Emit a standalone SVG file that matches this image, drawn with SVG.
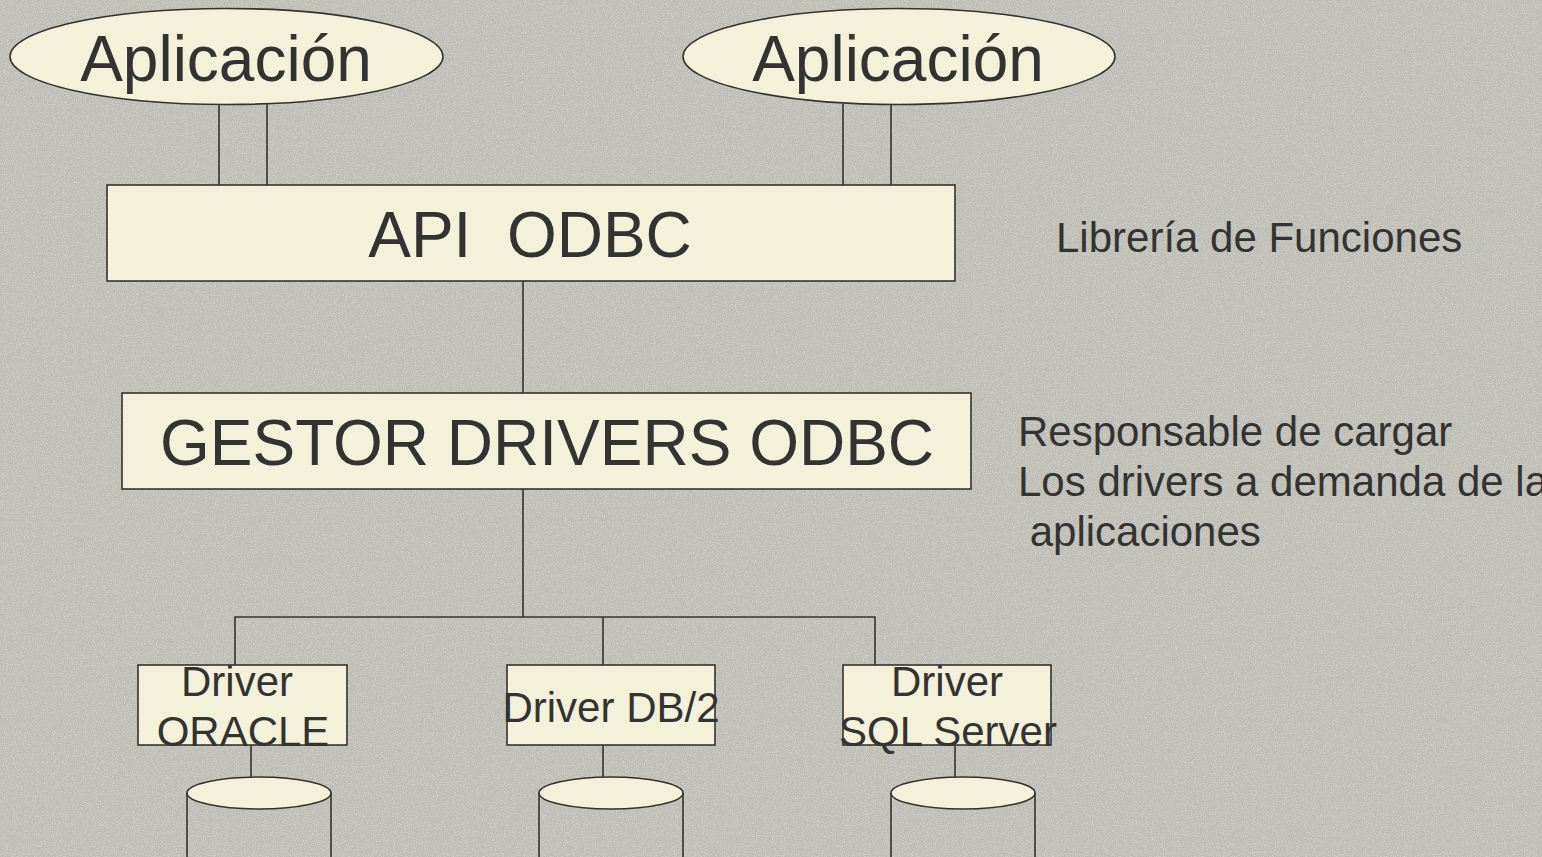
<svg xmlns="http://www.w3.org/2000/svg" width="1542" height="857" viewBox="0 0 1542 857">
  <defs>
    <filter id="grain" x="0" y="0" width="100%" height="100%">
      <feTurbulence type="fractalNoise" baseFrequency="0.9" numOctaves="2" seed="7" result="noise"/>
      <feColorMatrix in="noise" type="matrix" values="0 0 0 0 0.86  0 0 0 0 0.86  0 0 0 0 0.82  0 0 0 -2.2 1.25"/>
    </filter>
  </defs>
  <style>
    .shape { fill: #f3f1da; stroke: #333333; stroke-width: 1.6; }
    .wire { fill: none; stroke: #333333; stroke-width: 1.6; }
    .txt { font-family: "Liberation Sans", Arial, sans-serif; fill: #333333; }
    .big { font-size: 64px; text-anchor: middle; }
    .mid { font-size: 42px; text-anchor: middle; }
    .note { font-size: 42px; }
  </style>

  <!-- granite slide background -->
  <rect width="1542" height="857" fill="#bdbcb4"/>
  <rect width="1542" height="857" filter="url(#grain)" opacity="0.55"/>

  <!-- connectors -->
  <g id="connectors" class="wire">
    <line x1="219" y1="104" x2="219" y2="185"/>
    <line x1="267" y1="104" x2="267" y2="185"/>
    <line x1="843" y1="104" x2="843" y2="185"/>
    <line x1="891" y1="104" x2="891" y2="185"/>
    <line x1="523" y1="281" x2="523" y2="393"/>
    <line x1="523" y1="489" x2="523" y2="617"/>
    <polyline points="235,665 235,617 875,617 875,665"/>
    <line x1="603" y1="617" x2="603" y2="665"/>
    <line x1="251" y1="745" x2="251" y2="777"/>
    <line x1="603" y1="745" x2="603" y2="777"/>
    <line x1="955" y1="745" x2="955" y2="777"/>
  </g>

  <g id="app-left">
    <ellipse class="shape" cx="226.5" cy="56.5" rx="216.5" ry="48"/>
    <text class="txt big" x="226" y="81">Aplicación</text>
  </g>

  <g id="app-right">
    <ellipse class="shape" cx="899" cy="56.5" rx="216" ry="48"/>
    <text class="txt big" x="898" y="81">Aplicación</text>
  </g>

  <g id="api-odbc">
    <rect class="shape" x="107" y="185" width="848" height="96"/>
    <text class="txt big" x="530" y="257" xml:space="preserve">API  ODBC</text>
  </g>

  <g id="driver-manager">
    <rect class="shape" x="122" y="393" width="849" height="96"/>
    <text class="txt big" x="547" y="465">GESTOR DRIVERS ODBC</text>
  </g>

  <g id="driver-oracle">
    <rect class="shape" x="138" y="665" width="209" height="80"/>
    <text class="txt mid" x="237" y="696">Driver</text>
    <text class="txt mid" x="243" y="746">ORACLE</text>
  </g>

  <g id="driver-db2">
    <rect class="shape" x="507" y="665" width="208" height="80"/>
    <text class="txt mid" x="611" y="722">Driver DB/2</text>
  </g>

  <g id="driver-sqlserver">
    <rect class="shape" x="843" y="665" width="208" height="80"/>
    <text class="txt mid" x="947" y="696">Driver</text>
    <text class="txt mid" x="948" y="746">SQL Server</text>
  </g>

  <g id="db-oracle">
    <path class="wire" d="M187,793 L187,860 M331,793 L331,860"/>
    <ellipse class="shape" cx="259" cy="793" rx="72" ry="16"/>
  </g>

  <g id="db-db2">
    <path class="wire" d="M539,793 L539,860 M683,793 L683,860"/>
    <ellipse class="shape" cx="611" cy="793" rx="72" ry="16"/>
  </g>

  <g id="db-sqlserver">
    <path class="wire" d="M891,793 L891,860 M1035,793 L1035,860"/>
    <ellipse class="shape" cx="963" cy="793" rx="72" ry="16"/>
  </g>

  <g id="notes">
    <text class="txt note" x="1056" y="252">Librería de Funciones</text>
    <text class="txt note" x="1018" y="446">Responsable de cargar</text>
    <text class="txt note" x="1018" y="496">Los drivers a demanda de las</text>
    <text class="txt note" x="1018" y="546" xml:space="preserve"> aplicaciones</text>
  </g>
</svg>
